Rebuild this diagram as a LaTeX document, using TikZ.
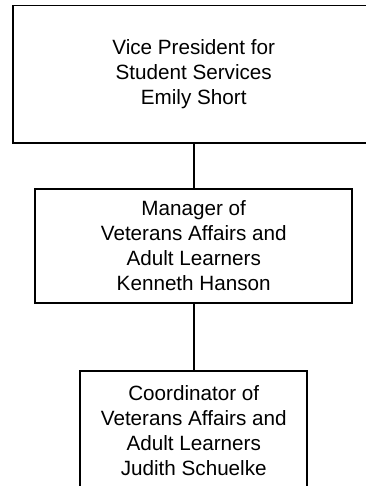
\documentclass[tikz,border=0pt]{standalone}
\usepackage{fontspec}
\setmainfont{Liberation Sans}
\usepackage{tikz}
\usetikzlibrary{positioning}
\tikzset{
  orgbox/.style={rectangle, draw=black, fill=white, align=center,
    font=\fontsize{15.5}{18.75}\selectfont, line width=1.4pt},
  line/.style={line width=1.4pt, color=black}
}

\begin{document}
\begin{tikzpicture}
  \useasboundingbox (0,0) rectangle (274.5pt,-364.5pt);
  \clip (0,0) rectangle (274.5pt,-364.5pt);
  \node[orgbox, minimum width=271.5pt, minimum height=103pt] (vp) at (145.3pt,-55.6pt)
    {Vice President for\\Student Services\\Emily Short};
  \node[orgbox, minimum width=238pt, minimum height=85.5pt, below=33pt of vp] (mgr)
    {Manager of\\Veterans Affairs and\\Adult Learners\\Kenneth Hanson};
  \node[orgbox, minimum width=170pt, minimum height=89pt, below=50pt of mgr] (coord)
    {Coordinator of\\Veterans Affairs and\\Adult Learners\\Judith Schuelke};
  \draw[line] (vp) -- (mgr);
  \draw[line] (mgr) -- (coord);
\end{tikzpicture}
\end{document}
